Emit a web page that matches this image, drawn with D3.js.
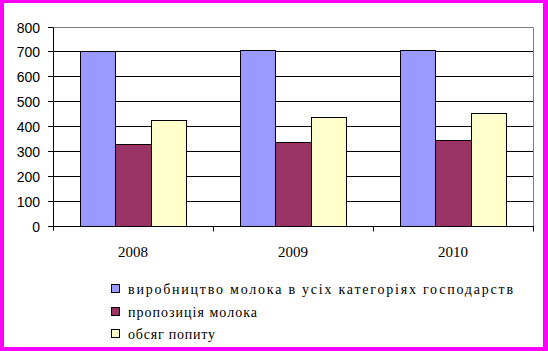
<!DOCTYPE html>
<html>
<head>
<meta charset="utf-8">
<script src="https://cdn.jsdelivr.net/npm/d3@7"></script>
<style>
html,body{margin:0;padding:0;background:#fff;}
svg{display:block;}
</style>
</head>
<body>
<script>
const categories = ["2008", "2009", "2010"];
const seriesNames = [
  "виробництво  молока в усіх категоріях господарств",
  "пропозиція молока",
  "обсяг  попиту"
];
const production = [703, 707, 707];
const supply = [329, 337, 345];
const demand = [423, 438, 454];
const yTicks = [0, 100, 200, 300, 400, 500, 600, 700, 800];
const seriesColors = ["#9999FF", "#993366", "#FFFFCC"];

const seriesValues = [production, supply, demand];
const W = 548, H = 351;
const svg = d3.select("body").append("svg").attr("width", W).attr("height", H);

svg.append("rect").attr("width", W).attr("height", H).attr("fill", "#fff");

const L = 53, R = 533, T = 27, B = 226;
const x0 = d3.scaleBand().domain(categories).range([L, R]).padding(0);
const x1 = d3.scaleBand().domain(d3.range(seriesNames.length))
  .range([0, x0.bandwidth()]).paddingInner(0).paddingOuter(0.75);
const y = d3.scaleLinear().domain([0, 800]).range([B, T]);
const py = v => Math.floor(y(v)) + 0.5;

// gridlines
svg.append("g").selectAll("line").data(yTicks.filter(t => t > 0 && t < 800)).join("line")
  .attr("x1", L).attr("x2", R).attr("y1", py).attr("y2", py)
  .attr("stroke", "#000").attr("stroke-width", 1);

// plot border (top/right gray)
svg.append("path")
  .attr("d", `M${L},${py(800)}H${R + 0.5}V${py(0)}`)
  .attr("fill", "none").attr("stroke", "#808080");

// bars
const groups = svg.append("g").selectAll("g").data(categories).join("g");
groups.selectAll("rect").data((c, ci) => seriesValues.map((s, si) => ({si, v: s[ci], c}))).join("rect")
  .attr("x", d => Math.round(x0(d.c) + x1(d.si)) + 0.5)
  .attr("width", d => Math.round(x0(d.c) + x1(d.si) + x1.bandwidth()) - Math.round(x0(d.c) + x1(d.si)))
  .attr("y", d => py(d.v))
  .attr("height", d => py(0) - py(d.v))
  .attr("fill", d => seriesColors[d.si])
  .attr("stroke", "#000").attr("stroke-width", 1);

// y axis
const yAxis = svg.append("g");
yAxis.append("line").attr("x1", L + 0.5).attr("x2", L + 0.5).attr("y1", py(800)).attr("y2", py(0) + 4)
  .attr("stroke", "#000");
yAxis.selectAll("line.tk").data(yTicks).join("line").attr("class", "tk")
  .attr("x1", L - 5).attr("x2", L).attr("y1", py).attr("y2", py).attr("stroke", "#000");
yAxis.selectAll("text").data(yTicks).join("text")
  .attr("x", 40).attr("y", d => py(d)).attr("dy", "0.36em")
  .attr("text-anchor", "end")
  .attr("font-family", "Liberation Sans, Arial, sans-serif").attr("font-size", 14)
  .attr("fill", "#000").text(d => d);

// x axis
const xAxis = svg.append("g");
xAxis.append("line").attr("x1", L).attr("x2", R + 1).attr("y1", py(0)).attr("y2", py(0)).attr("stroke", "#000");
xAxis.selectAll("line.tk").data(categories.slice(1).map(c => x0(c)).concat([R])).join("line").attr("class", "tk")
  .attr("x1", d => Math.round(d) + 0.5).attr("x2", d => Math.round(d) + 0.5)
  .attr("y1", py(0)).attr("y2", py(0) + 5).attr("stroke", "#000");
xAxis.selectAll("text").data(categories).join("text")
  .attr("x", d => x0(d) + x0.bandwidth() / 2).attr("y", 257)
  .attr("text-anchor", "middle")
  .attr("font-family", "Liberation Serif, Times New Roman, serif").attr("font-size", 15)
  .attr("fill", "#000").text(d => d);

// legend
const legendTop = [284, 306.5, 329];
const legendWidths = [385, 129, 87];
const lg = svg.append("g").selectAll("g").data(seriesNames).join("g");
lg.append("rect")
  .attr("x", 111.5).attr("y", (d, i) => Math.round(legendTop[i]) + 0.5)
  .attr("width", 8).attr("height", 8)
  .attr("fill", (d, i) => seriesColors[i]).attr("stroke", "#000");
lg.append("text")
  .attr("x", 128).attr("y", (d, i) => Math.round(legendTop[i]) + 10)
  .attr("font-family", "Liberation Serif, Times New Roman, serif").attr("font-size", 14)
  .attr("textLength", (d, i) => legendWidths[i]).attr("lengthAdjust", "spacing")
  .attr("fill", "#000").text(d => d);

// magenta frame
const frame = svg.append("g").attr("fill", "#FF00FF");
frame.append("rect").attr("x", 0).attr("y", 0).attr("width", W).attr("height", 3);
frame.append("rect").attr("x", 0).attr("y", 347).attr("width", W).attr("height", 4);
frame.append("rect").attr("x", 0).attr("y", 0).attr("width", 4).attr("height", H);
frame.append("rect").attr("x", 543).attr("y", 0).attr("width", 5).attr("height", H);
</script>
</body>
</html>
